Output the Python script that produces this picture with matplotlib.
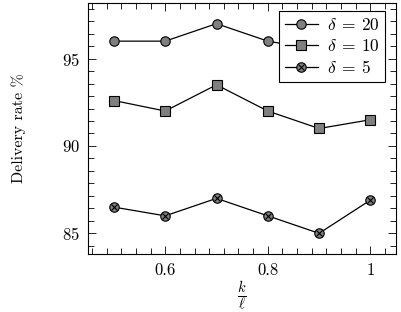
import matplotlib
matplotlib.use("Agg")
import matplotlib.pyplot as plt
from matplotlib.ticker import MultipleLocator
import numpy as np

plt.rcParams['font.family'] = 'serif'
plt.rcParams['font.serif'] = ['cmr10']
plt.rcParams['mathtext.fontset'] = 'cm'
plt.rcParams['axes.formatter.use_mathtext'] = True

ratio = [0.5, 0.6, 0.7, 0.8, 0.9, 1.0]
d20 = [96.0, 96.0, 97.0, 96.0, 95.5, 95.5]
d10 = [92.6, 92.0, 93.5, 92.0, 91.0, 91.5]
d5 = [86.5, 86.0, 87.0, 86.0, 85.0, 86.9]
labels = [r'$\delta\:=\:20$', r'$\delta\:=\:10$', r'$\delta\:=\:5$']
xticks = [0.6, 0.8, 1.0]
xticklabels = ['0.6', '0.8', '1']
yticks = [85, 90, 95]

fig = plt.figure(figsize=(4.01, 3.12), dpi=100)
ax = fig.add_axes([0.2202, 0.185, 0.9875 - 0.2202, 0.9913 - 0.185])

gray = '#7f7f7f'
ms = 6.8
l20, = ax.plot(ratio, d20, '-', color='black', lw=0.9, marker='o', ms=ms,
               mfc=gray, mec='black', mew=0.8, zorder=3)
l10, = ax.plot(ratio, d10, '-', color='black', lw=0.9, marker='s', ms=ms,
               mfc=gray, mec='black', mew=0.8, zorder=3)
l5, = ax.plot(ratio, d5, '-', color='black', lw=0.9, marker='o', ms=ms,
              mfc=gray, mec='black', mew=0.8, zorder=3)
x5, = ax.plot(ratio, d5, ls='none', marker='x', ms=4.0, mec='black', mew=0.8, zorder=4)

ax.set_xlim(0.45, 1.05)
ax.set_ylim(83.8, 98.2)
ax.set_xticks(xticks)
ax.set_xticklabels(xticklabels)
ax.set_yticks(yticks)
ax.xaxis.set_minor_locator(MultipleLocator(0.2 / 7))
ax.yaxis.set_minor_locator(MultipleLocator(5 / 7))
ax.tick_params(which='both', direction='in', top=True, right=True, width=0.6, labelsize=12)
ax.tick_params(which='major', length=6, pad=6)
ax.tick_params(which='minor', length=4)
for s in ax.spines.values():
    s.set_linewidth(0.8)

ax.set_ylabel('Delivery rate %', fontsize=11.5, va='center')
ax.yaxis.set_label_coords(-0.225, 0.5)
ax.set_xlabel(r'$\frac{k}{\ell}$', fontsize=15, va='center')
ax.xaxis.set_label_coords(0.5, -0.165)

leg = ax.legend([l20, l10, (l5, x5)], labels, loc='upper right',
                bbox_to_anchor=(0.965, 0.968), fontsize=12.5, frameon=True,
                fancybox=False, edgecolor='black', framealpha=1,
                handlelength=1.9, handletextpad=0.5, borderpad=0.35,
                labelspacing=0.3, borderaxespad=0)
leg.get_frame().set_linewidth(0.8)

fig.savefig('out.png', dpi=100)
